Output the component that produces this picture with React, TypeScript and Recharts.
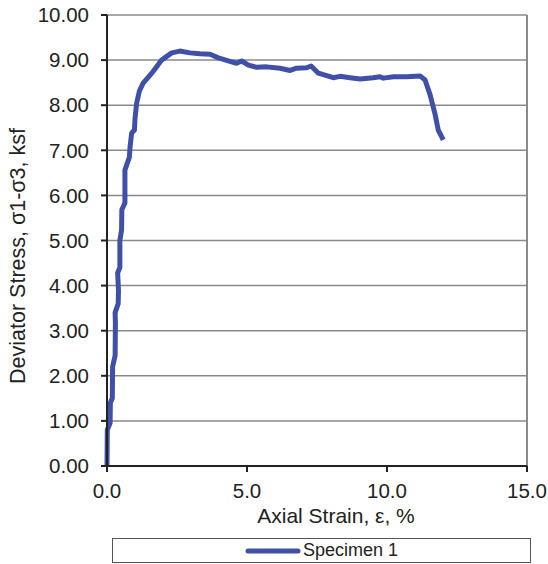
import React from 'react';
import { LineChart, Line, XAxis, YAxis, CartesianGrid, Legend, ReferenceLine, Label } from 'recharts';

// axial strain (%)
const strain = [
  0.0, 0.01, 0.11, 0.12, 0.19, 0.2, 0.29, 0.3, 0.29, 0.4, 0.41, 0.38, 0.46, 0.46, 0.52, 0.53,
  0.64, 0.64, 0.8, 0.82, 0.88, 0.98, 1.0, 1.06, 1.16, 1.29, 1.6, 1.95, 2.31, 2.6, 2.96, 3.32, 3.68,
  3.98, 4.39, 4.63, 4.81, 5.05, 5.35, 5.7, 6.18, 6.54, 6.77, 7.13, 7.29, 7.55, 8.08, 8.32,
  8.68, 9.04, 9.51, 9.75, 9.87, 10.23, 10.7, 11.18, 11.36, 11.54, 11.71, 11.83, 12.01,
];

// deviator stress (ksf)
const stress = [
  0.0, 0.8, 0.95, 1.4, 1.5, 2.2, 2.45, 3.17, 3.4, 3.6, 3.9, 4.28, 4.4, 5.0, 5.23, 5.68,
  5.83, 6.56, 6.85, 7.05, 7.38, 7.45, 7.7, 8.05, 8.32, 8.49, 8.71, 9.0, 9.16, 9.2, 9.16, 9.14, 9.13,
  9.05, 8.97, 8.93, 8.98, 8.89, 8.84, 8.85, 8.82, 8.77, 8.82, 8.83, 8.87, 8.71, 8.61, 8.64,
  8.61, 8.58, 8.61, 8.63, 8.6, 8.63, 8.63, 8.65, 8.56, 8.23, 7.82, 7.45, 7.23,
];

const xTicks = [0, 5, 10, 15];
const yTicks = [0, 1, 2, 3, 4, 5, 6, 7, 8, 9, 10];

const seriesName = 'Specimen 1';

const data = strain.map((e, i) => ({ strain: e, stress: stress[i] }));

const FONT = '"Liberation Sans", Arial, sans-serif';
const LINE_COLOR = '#4050a6';

export default function App() {
  return (
    <div style={{ position: 'absolute', left: 0, top: 0, fontFamily: FONT }}>
      <LineChart width={548} height={564} data={data} margin={{ top: 15, right: 21, left: 0, bottom: 0 }}>
        <CartesianGrid horizontal vertical={false} stroke="#8a8a8a" strokeWidth={1.5} />
        <ReferenceLine x={15} stroke="#8a8a8a" strokeWidth={2} />
        <XAxis
          dataKey="strain"
          type="number"
          domain={[0, 15]}
          ticks={xTicks}
          tickFormatter={(v) => v.toFixed(1)}
          height={73}
          stroke="#222"
          strokeWidth={2}
          tickSize={6}
          tickMargin={11}
          tick={{ fill: '#222', fontSize: 20.5, fontFamily: FONT }}
        >
          <Label
            content={({ viewBox }: any) => (
              <text
                x={viewBox.x + viewBox.width / 2 + 19}
                y={viewBox.y + 57}
                textAnchor="middle"
                fill="#222"
                fontSize={21}
                fontFamily={FONT}
              >
                Axial Strain, ε, %
              </text>
            )}
          />
        </XAxis>
        <YAxis
          type="number"
          domain={[0, 10]}
          ticks={yTicks}
          tickFormatter={(v) => v.toFixed(2)}
          width={107}
          stroke="#222"
          strokeWidth={2}
          tickSize={6}
          tickMargin={12}
          tick={{ fill: '#222', fontSize: 20.5, fontFamily: FONT }}
        >
          <Label
            content={() => (
              <text
                x={0}
                y={0}
                transform="translate(25, 256) rotate(-90)"
                textAnchor="middle"
                fill="#222"
                fontSize={21.5}
                fontFamily={FONT}
              >
                Deviator Stress, σ1-σ3, ksf
              </text>
            )}
          />
        </YAxis>
        <Legend
          verticalAlign="bottom"
          wrapperStyle={{ left: 112, top: 538, width: 419, height: 25 }}
          content={() => (
            <div
              style={{
                boxSizing: 'border-box',
                width: 419,
                height: 25,
                border: '1px solid #555',
                display: 'flex',
                alignItems: 'center',
                justifyContent: 'center',
                fontFamily: FONT,
                fontSize: 18,
                color: '#222',
              }}
            >
              <svg width={56} height={10} style={{ marginRight: 2 }}>
                <line x1={3} y1={5} x2={53} y2={5} stroke={LINE_COLOR} strokeWidth={5} strokeLinecap="round" />
              </svg>
              <span>{seriesName}</span>
            </div>
          )}
        />
        <Line
          dataKey="stress"
          name={seriesName}
          type="linear"
          stroke={LINE_COLOR}
          strokeWidth={5}
          strokeLinejoin="round"
          dot={false}
          isAnimationActive={false}
        />
      </LineChart>
    </div>
  );
}
